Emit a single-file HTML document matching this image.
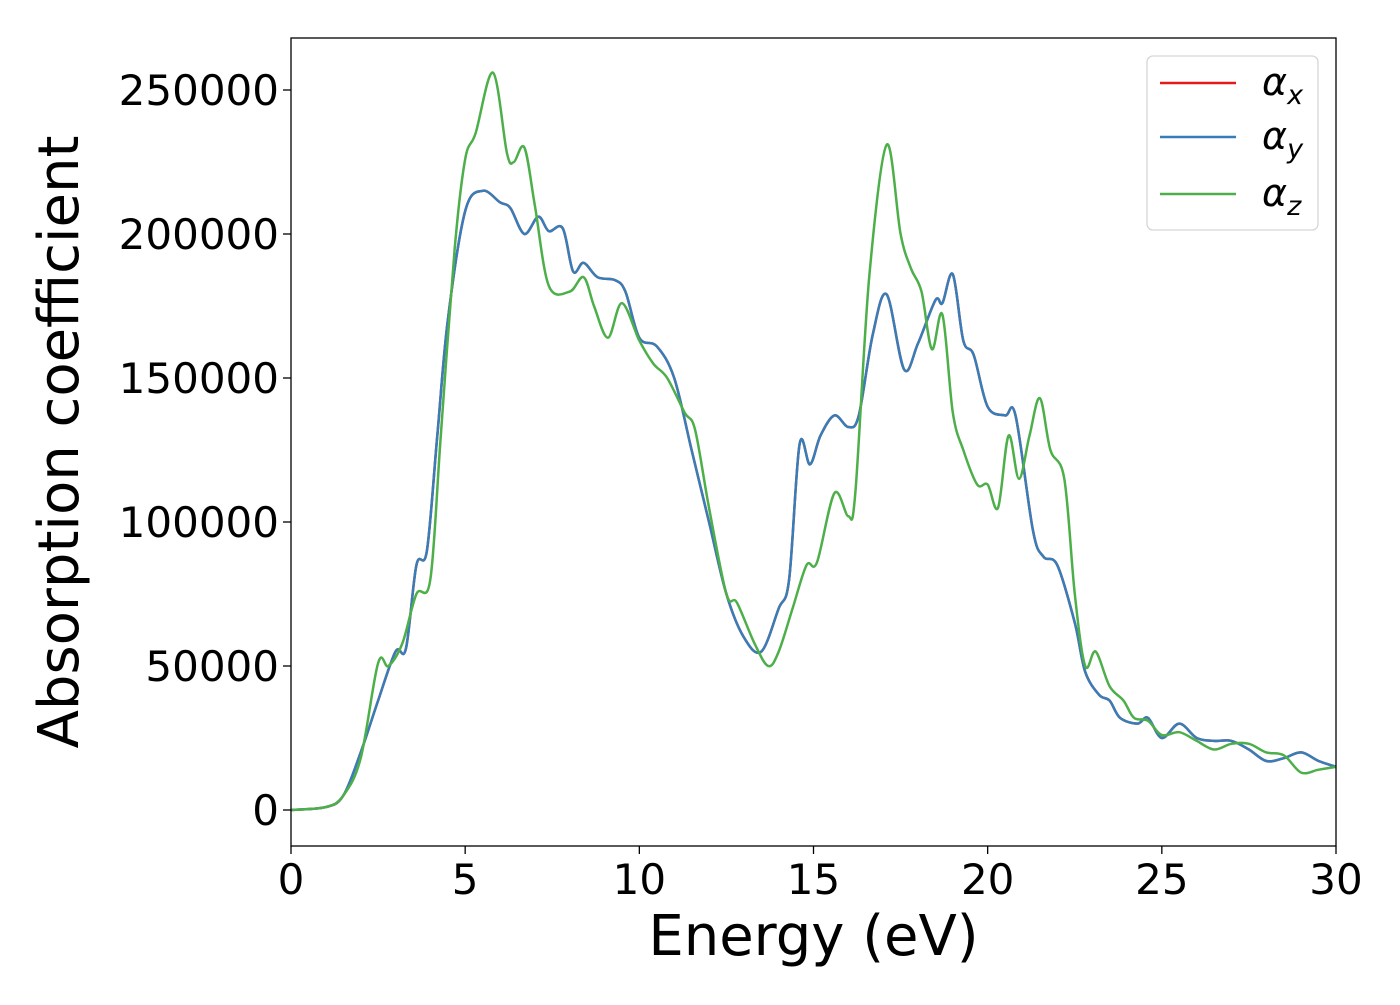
<!DOCTYPE html>
<html><head><meta charset="utf-8"><style>
body{margin:0;background:#fff}
text{font-family:"DejaVu Sans","Liberation Sans",sans-serif}
</style></head><body>
<svg id="chart" width="1400" height="1000" xmlns="http://www.w3.org/2000/svg">
<g id="plot"></g>
</svg>
<script>
const energyY=[0,1,1.5,2,2.5,3,3.3,3.6,3.9,4.2,4.5,5,5.5,6,6.3,6.7,7.1,7.4,7.8,8.1,8.4,8.8,9.3,9.6,10,10.5,11,11.5,12,12.5,13,13.5,14,14.3,14.6,14.9,15.2,15.6,16,16.3,16.7,17.1,17.6,18,18.5,18.7,19,19.3,19.6,20,20.5,20.8,21.3,21.6,22,22.5,22.8,23.2,23.5,23.8,24.3,24.6,25,25.5,26,26.5,27,27.5,28,28.5,29,29.5,30];
const alphaY=[0,1000,5000,20000,38000,55000,56000,85000,90000,130000,170000,208000,215000,211000,209000,200000,206000,201000,202000,187000,190000,185000,184000,180000,164000,161000,150000,125000,100000,75000,60000,55000,70000,80000,127000,120000,130000,137000,133000,137000,165000,179000,153000,162000,177000,176000,186000,163000,158000,140000,137000,137000,97000,88000,85000,65000,48000,40000,38000,32000,30000,32000,25000,30000,25000,24000,24000,21000,17000,18000,20000,17000,15000];
const alphaX=alphaY.slice();
const energyZ=[0,1,1.5,2,2.5,2.8,3.2,3.6,4,4.3,4.7,5,5.3,5.8,6.2,6.4,6.7,7,7.4,8,8.4,8.7,9.1,9.5,10,10.4,10.8,11.3,11.6,12,12.5,12.8,13.3,13.7,14,14.4,14.8,15.1,15.6,16,16.2,16.6,17.1,17.5,17.8,18.1,18.4,18.7,19,19.3,19.7,20,20.3,20.6,20.9,21.2,21.5,21.8,22.2,22.5,22.8,23.1,23.5,23.9,24.2,24.6,25,25.5,26,26.5,27,27.5,28,28.5,29,29.5,30];
const alphaZ=[0,1000,5000,18000,51000,50000,58000,75000,80000,130000,195000,226000,235000,256000,228000,225000,230000,210000,182000,180000,185000,175000,164000,176000,163000,155000,150000,138000,132000,105000,75000,72000,58000,50000,55000,70000,85000,86000,110000,102000,110000,185000,231000,200000,188000,180000,160000,172000,138000,125000,113000,113000,105000,130000,115000,130000,143000,125000,115000,75000,50000,55000,43000,38000,32000,31000,26000,27000,24000,21000,23000,23000,20000,19000,13000,14000,15000];
const xTicks=[0,5,10,15,20,25,30];
const yTicks=[0,50000,100000,150000,200000,250000];

const L=291,R=1336,T=38,B=846;
const sx=v=>L+(v/30)*(R-L);
const sy=v=>810-(v/250000)*720;
const NS="http://www.w3.org/2000/svg";
const g=document.getElementById('plot');
function mk(tag,attrs){const e=document.createElementNS(NS,tag);for(const k in attrs)e.setAttribute(k,attrs[k]);g.appendChild(e);return e;}

const clip=document.createElementNS(NS,'clipPath');clip.setAttribute('id','c');
const cr=document.createElementNS(NS,'rect');cr.setAttribute('x',L);cr.setAttribute('y',T);cr.setAttribute('width',R-L);cr.setAttribute('height',B-T);
clip.appendChild(cr);g.appendChild(clip);

function path(xs,ys){
  const p=xs.map((x,i)=>[sx(x),sy(ys[i])]);
  let d='M'+p[0][0].toFixed(1)+','+p[0][1].toFixed(1);
  for(let i=0;i<p.length-1;i++){
    const p0=p[i-1]||p[i],p1=p[i],p2=p[i+1],p3=p[i+2]||p2;
    const c1=[p1[0]+(p2[0]-p0[0])/6,p1[1]+(p2[1]-p0[1])/6];
    const c2=[p2[0]-(p3[0]-p1[0])/6,p2[1]-(p3[1]-p1[1])/6];
    d+='C'+c1[0].toFixed(1)+','+c1[1].toFixed(1)+' '+c2[0].toFixed(1)+','+c2[1].toFixed(1)+' '+p2[0].toFixed(1)+','+p2[1].toFixed(1);
  }
  return d;
}
const series=[['alpha-x-line',energyY,alphaX,'#e41a1c'],['alpha-y-line',energyY,alphaY,'#377eb8'],['alpha-z-line',energyZ,alphaZ,'#4daf4a']];
series.forEach(s=>{
  const e=mk('path',{d:path(s[1],s[2]),fill:'none',stroke:s[3],'stroke-width':2.5,'clip-path':'url(#c)'});
  
  
});

const frame=mk('rect',{x:L,y:T,width:R-L,height:B-T,fill:'none',stroke:'#000','stroke-width':1.3});



xTicks.forEach(t=>{
  const x=sx(t);
  const tk=mk('line',{x1:x,x2:x,y1:B,y2:B+8,stroke:'#000','stroke-width':1.3});
  
  
  const tx=mk('text',{x:x,y:B+48,'text-anchor':'middle','font-size':42});
  tx.textContent=t;
  
  
});
yTicks.forEach(t=>{
  const y=sy(t);
  const tk=mk('line',{x1:L-8,x2:L,y1:y,y2:y,stroke:'#000','stroke-width':1.3});
  
  
  const tx=mk('text',{x:L-12,y:y+15,'text-anchor':'end','font-size':42});
  tx.textContent=t;
  
  
});
const xl=mk('text',{x:(L+R)/2,y:955,'text-anchor':'middle','font-size':56});
xl.textContent='Energy (eV)';


const yl=mk('text',{x:0,y:0,'text-anchor':'middle','font-size':56,transform:'translate(78,442) rotate(-90)'});
yl.textContent='Absorption coefficient';



const lb=mk('rect',{x:1147,y:56,width:171,height:174,rx:6,fill:'#fff',stroke:'#d6d6d6','stroke-width':1.3});


const labs=['x','y','z'],ly=[83,137,194];
series.forEach((s,i)=>{
  const ln=mk('line',{x1:1160,x2:1236,y1:ly[i],y2:ly[i],stroke:s[3],'stroke-width':2.5});
  
  
  const t=mk('text',{x:1262,y:ly[i]+12,'font-size':38,'font-style':'italic'});
  t.textContent='α';
  const sub=document.createElementNS(NS,'tspan');
  sub.setAttribute('font-size',27);sub.setAttribute('dy',9);sub.textContent=labs[i];
  t.appendChild(sub);
  
  
});
</script>
</body></html>
